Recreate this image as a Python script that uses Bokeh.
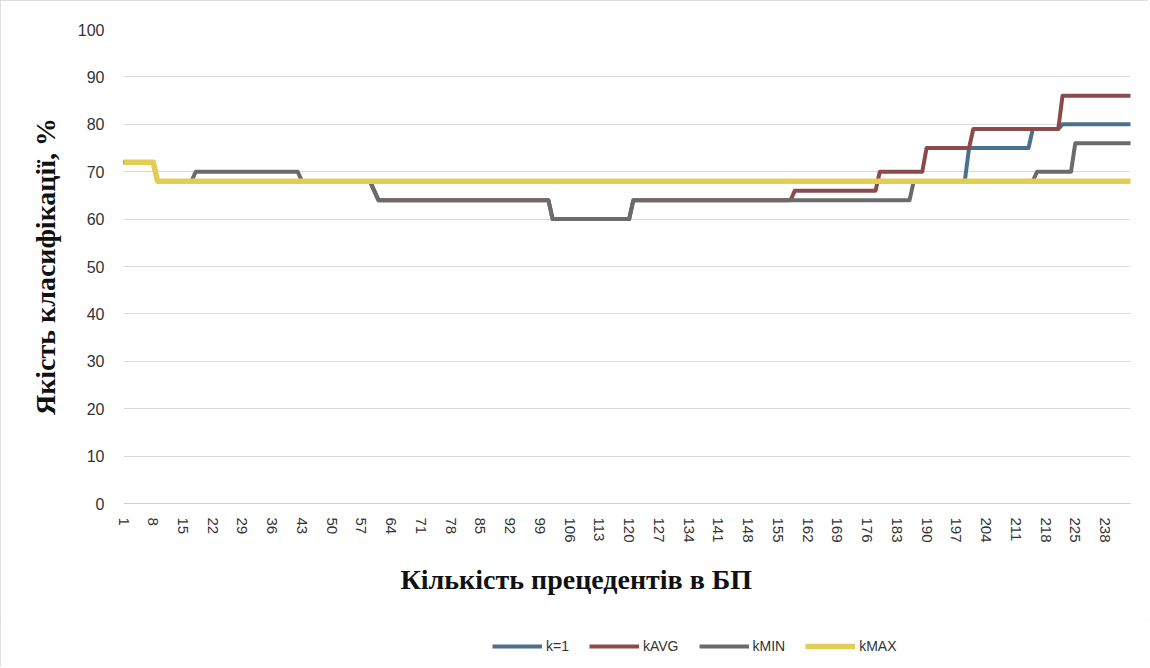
from bokeh.plotting import figure
from bokeh.layouts import column
from bokeh.models import Range1d, FixedTicker, Legend, LegendItem, Title
from bokeh.embed import file_html
from bokeh.resources import INLINE

# ---- data (category index along the x axis, quality % on y) ----
tick_labels = ["1", "8", "15", "22", "29", "36", "43", "50", "57", "64", "71", "78",
               "85", "92", "99", "106", "113", "120", "127", "134", "141", "148",
               "155", "162", "169", "176", "183", "190", "197", "204", "211", "218",
               "225", "238"]
y_ticks = [0, 10, 20, 30, 40, 50, 60, 70, 80, 90, 100]

k1_x = [0, 7, 8, 198, 199, 213, 214, 220, 221, 237]
k1_y = [72, 72, 68, 68, 75, 75, 79, 79, 80, 80]

kavg_x = [0, 7, 8, 58, 60, 100, 101, 119, 120, 157, 158, 177, 178, 188, 189, 199, 200, 220, 221, 237]
kavg_y = [72, 72, 68, 68, 64, 64, 60, 60, 64, 64, 66, 66, 70, 70, 75, 75, 79, 79, 86, 86]

kmin_x = [0, 7, 8, 16, 17, 41, 42, 58, 60, 100, 101, 119, 120, 185, 186, 214, 215, 223, 224, 237]
kmin_y = [72, 72, 68, 68, 70, 70, 68, 68, 64, 64, 60, 60, 64, 64, 68, 68, 70, 70, 76, 76]

kmax_x = [0, 7, 8, 237]
kmax_y = [72, 72, 68, 68]

series_names = ["k=1", "kAVG", "kMIN", "kMAX"]

colors = ["#4b6f8c", "#8c4b4b", "#6b6b6b", "#e2ce55"]
widths = [4, 4, 4, 5.5]

# ---- main figure ----
p = figure(width=1148, height=620, output_backend="svg", toolbar_location=None,
           x_range=Range1d(0, 237), y_range=Range1d(0, 100),
           min_border_left=123, min_border_right=18, min_border_top=29,
           min_border_bottom=117)
p.outline_line_color = None
p.background_fill_color = "white"
p.border_fill_color = "white"

xs = [k1_x, kavg_x, kmin_x, kmax_x]
ys = [k1_y, kavg_y, kmin_y, kmax_y]
for x, y, c, w in zip(xs, ys, colors, widths):
    p.line(x, y, line_color=c, line_width=w, line_join="round", line_cap="round")

p.xgrid.visible = False
p.ygrid.grid_line_color = "#d9d9d9"
p.ygrid.grid_line_width = 1
p.yaxis.ticker = FixedTicker(ticks=y_ticks)
tick_pos = [7 * i for i in range(len(tick_labels))]
p.xaxis.ticker = FixedTicker(ticks=tick_pos)
p.xaxis.major_label_overrides = {tp: lab for tp, lab in zip(tick_pos, tick_labels)}
p.xaxis.major_label_orientation = "vertical"

for ax in (p.xaxis[0], p.yaxis[0]):
    ax.major_tick_line_color = None
    ax.minor_tick_line_color = None
    ax.major_tick_out = 0
    ax.major_tick_in = 0
    ax.minor_tick_out = 0
    ax.major_label_text_font = "Liberation Sans"
    ax.major_label_text_color = "#333333"
p.xaxis.axis_line_color = "#d0d0d0"
p.yaxis.axis_line_color = None
p.yaxis.major_label_text_font_size = "16px"
p.xaxis.major_label_text_font_size = "15px"
p.yaxis.major_label_standoff = 19
p.xaxis.major_label_standoff = 14

p.yaxis.axis_label = "Якість класифікації, %"
p.yaxis.axis_label_text_font = "Liberation Serif"
p.yaxis.axis_label_text_font_style = "bold"
p.yaxis.axis_label_text_font_size = "28px"
p.yaxis.axis_label_text_color = "#111111"
p.yaxis.axis_label_standoff = 14

xt = Title(text="Кількість прецедентів в БП", align="left", offset=277,
           text_font="Liberation Serif", text_font_style="bold", text_font_size="28px",
           text_color="#111111", standoff=33)
p.add_layout(xt, "below")

# ---- legend strip (swatches sit outside its visible range) ----
lg = figure(width=1148, height=46, output_backend="svg", toolbar_location=None,
            x_axis_type=None, y_axis_type=None, min_border=0,
            x_range=Range1d(0, 1), y_range=Range1d(0, 1))
lg.outline_line_color = None
lg.grid.visible = False
lg_renderers = [lg.line([-2, -1], [-2, -2], line_color=c, line_width=w)
                for c, w in zip(colors, widths)]
legend = Legend(items=[LegendItem(label=n, renderers=[r]) for n, r in zip(series_names, lg_renderers)],
                orientation="horizontal", location=(369, 12), padding=0, margin=0,
                spacing=20, label_standoff=4, glyph_width=50, glyph_height=16,
                border_line_color=None, background_fill_alpha=0,
                label_text_font="Liberation Sans", label_text_font_size="14px",
                label_text_color="#333333")
lg.add_layout(legend, "center")

page = column(p, lg, spacing=0,
              styles={"outline": "1px solid #d4d4d4", "outline-offset": "-1px"})

open("out.html", "w").write(file_html(page, INLINE))
